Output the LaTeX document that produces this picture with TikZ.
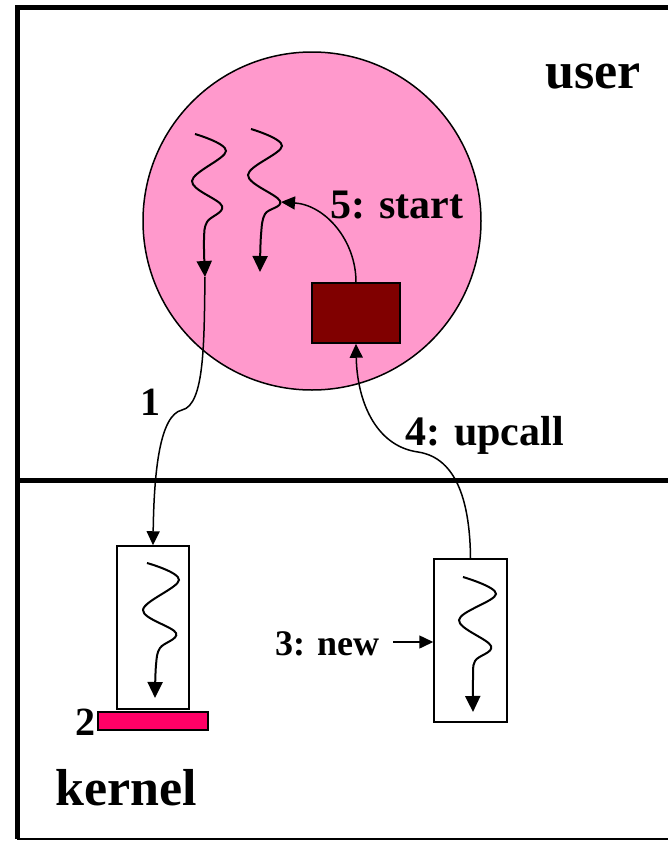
\documentclass[tikz,border=0pt]{standalone}
\usepackage{fontspec}
\setmainfont{Liberation Serif}
\usetikzlibrary{arrows.meta}
\definecolor{bubble}{HTML}{FF99CC}
\definecolor{ctx}{HTML}{800000}
\definecolor{barred}{HTML}{FF0066}
\begin{document}
\begin{tikzpicture}[x=1pt,y=-1pt,
  conn/.style={line width=1.5pt, -{Triangle[length=14pt,width=13pt]}},
  thr/.style={line width=2pt, -{Triangle[length=16pt,width=15pt]}},
  lbl/.style={font=\bfseries\fontsize{42}{46}\selectfont, anchor=base west, inner sep=0pt},
  big/.style={font=\bfseries\fontsize{52}{56}\selectfont, anchor=base west, inner sep=0pt},
  kbox/.style={draw, line width=1.5pt, fill=white, minimum width=72pt, minimum height=163pt, inner sep=0pt}]
\useasboundingbox (0,0) rectangle (667,841);
\fill[white] (0,0) rectangle (667,841);
% frame
\draw[line width=5pt] (700,7) -- (17,7) -- (17,839);
\draw[line width=2pt] (17,839) -- (700,839);
\draw[line width=5pt] (17,480) -- (700,480);
% process circle
\node[circle, draw, line width=1.5pt, fill=bubble, minimum size=338pt, inner sep=0pt] (proc) at (312,221) {};
% context box
\node[draw, line width=1.5pt, fill=ctx, minimum width=88pt, minimum height=60pt, inner sep=0pt] (ctxbox) at (356,313) {};
% kernel boxes
\node[kbox] (k1) at (153,627.5) {};
\node[kbox, minimum width=73pt] (k2) at (470.5,640.5) {};
\node[draw, line width=1.5pt, fill=barred, minimum width=110pt, minimum height=18pt, inner sep=0pt] (bar) at (153,721) {};
% threads
\draw[thr] plot[smooth, tension=0.6] coordinates {(195,134) (226,151) (192,181) (222,206) (207,222) (204,240) (205,277)};
\coordinate (aend) at (205,277);
\draw[thr] plot[smooth, tension=0.6] coordinates {(251,129) (282,146) (248,175) (280,201) (265,214) (261,235) (260,272)};
\coordinate (bmid) at (281,202);
\draw[thr] plot[smooth, tension=0.6] coordinates {(147,563) (179,580) (143,610) (176,633) (160,648) (156,665) (155,698)};
\draw[thr] plot[smooth, tension=0.6] coordinates {(463,577) (496,594) (459,620) (491,646) (475,661) (473,680) (473,712)};
% connectors
\draw[conn] (aend) .. controls (204,340) and (205,405) .. (182,410) .. controls (160,415) and (154,470) .. (k1.north);
\draw[conn] (ctxbox.north) .. controls (356,240) and (325,205) .. (bmid);
\draw[conn] (k2.north) .. controls (470,505) and (458,458) .. (418,452) .. controls (375,446) and (357,400) .. (ctxbox.south);
\coordinate (newtail) at (393,642);
\draw[conn] (newtail) -- (newtail -| k2.west);
% labels
\node[big] (luser) at (545,88) {user};
\node[big] (lkernel) at (55,805) {kernel};
\node[lbl] (lstart) at (330,218) {5: start};
\node[lbl] (lup) at (405,445) {4: upcall};
\node[lbl, font=\bfseries\fontsize{36}{40}\selectfont] (lnew) at (275,655) {3: new};
\node[lbl, font=\bfseries\fontsize{40}{44}\selectfont] (l1) at (140,415) {1};
\node[lbl, font=\bfseries\fontsize{40}{44}\selectfont] (l2) at (75,735) {2};
\end{tikzpicture}
\end{document}
